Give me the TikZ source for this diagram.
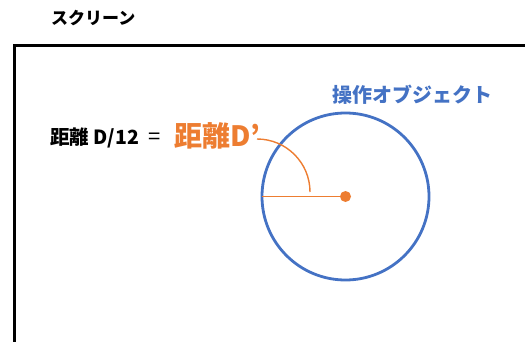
\documentclass[tikz,border=0pt]{standalone}
\usepackage{fontspec}
\newfontfamily\jp{Noto Sans CJK JP}
\definecolor{objblue}{HTML}{4472C4}
\definecolor{dorange}{HTML}{ED7D31}
\begin{document}
\begin{tikzpicture}[x=1pt,y=-1pt,
  lbl/.style={inner sep=0pt, font=\jp\bfseries},
]
\useasboundingbox (0,0) rectangle (525,342);
% screen
\draw[line width=3pt, line cap=rect] (14.5,345) -- (14.5,45.5) -- (530,45.5);
\node[lbl, font=\jp\bfseries\fontsize{17}{17}\selectfont, anchor=west] (screen) at (51,18) {スクリーン};
% object
\coordinate (c) at (345.5,196.5);
\draw[objblue, line width=2.8pt] (c) circle[radius=83.5];
\node[lbl, objblue, font=\jp\bfseries\fontsize{20}{20}\selectfont, anchor=west] (obj) at (332,95) {操作オブジェクト};
\coordinate (edge) at (262,196.5);
\draw[dorange, line width=1.8pt] (edge) -- (c);
\fill[dorange] (c) circle[radius=5.5];
% arc
\coordinate (a0) at (257,139);
\draw[dorange, line width=1.4pt] (a0) arc[start angle=-90, end angle=0, radius=53];
% label
\node[lbl, font=\jp\bfseries\fontsize{19.5}{19.5}\selectfont, anchor=west] (eq) at (50,138) {距離\ D/12\hspace{10pt}{\mdseries\fontsize{22}{22}\selectfont =}};
\node[lbl, dorange, font=\jp\bfseries\fontsize{28}{28}\selectfont, anchor=west] (dp) at (174,136) {距離D’};
\end{tikzpicture}
\end{document}
